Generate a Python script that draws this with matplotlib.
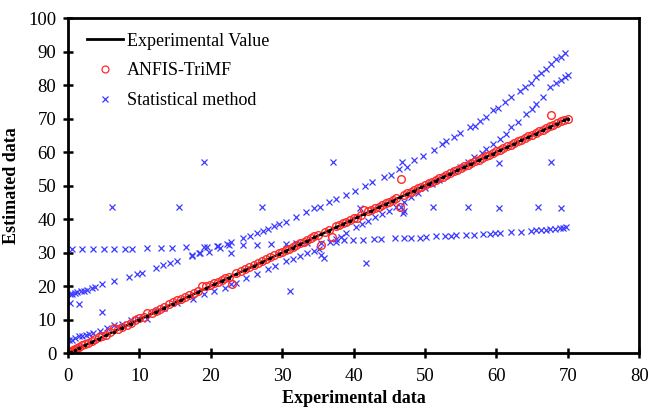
import matplotlib
matplotlib.use("Agg")
import matplotlib.pyplot as plt
from matplotlib.lines import Line2D

plt.rcParams['font.family'] = ['Liberation Serif', 'DejaVu Serif']

# Experimental values (line y = x)
exp_vals = [0.0, 0.4, 1.0, 1.6, 2.4, 3.3, 4.3, 5.3, 6.4, 7.6, 8.8, 10.0, 11.1, 12.3, 13.5,
            14.7, 15.8, 17.0, 18.2, 19.3, 20.5, 21.5, 22.5, 23.6, 24.8, 26.0, 27.2, 28.3,
            29.5, 30.5, 31.5, 32.5, 33.5, 34.5, 35.5, 36.5, 37.5, 38.5, 39.5, 40.5, 41.5,
            42.5, 43.5, 44.5, 45.5, 46.5, 47.5, 48.5, 49.5, 50.5, 51.5, 52.5, 53.5, 54.5,
            55.5, 56.5, 57.5, 58.5, 59.5, 60.5, 61.5, 62.5, 63.5, 64.5, 65.5, 66.5, 67.5,
            68.5, 69.5, 70.0]

# ANFIS-TriMF estimates
anfis_x = [0.0, 0.2, 0.4, 0.7, 1.0, 1.3, 1.6, 2.0, 2.4, 2.8,
           3.3, 3.8, 4.3, 4.8, 5.3, 5.9, 6.4, 7.0, 7.6, 8.2,
           8.8, 9.4, 10.0, 10.6, 11.1, 11.7, 12.3, 12.9, 13.5, 14.1,
           14.7, 15.3, 15.8, 16.4, 17.0, 17.6, 18.2, 18.8, 19.3, 19.9,
           20.5, 21.0, 21.5, 22.0, 22.5, 23.0, 23.6, 24.2, 24.8, 25.4,
           26.0, 26.6, 27.2, 27.8, 28.3, 28.9, 29.5, 30.0, 30.5, 31.0,
           31.5, 32.0, 32.5, 33.0, 33.5, 34.0, 34.5, 35.0, 35.5, 36.0,
           36.5, 37.0, 37.5, 38.0, 38.5, 39.0, 39.5, 40.0, 40.5, 41.0,
           41.5, 42.0, 42.5, 43.0, 43.5, 44.0, 44.5, 45.0, 45.5, 46.0,
           46.5, 46.7, 47.0, 47.5, 48.0, 48.5, 49.0, 49.5, 50.0, 50.5,
           51.0, 51.5, 52.0, 52.5, 53.0, 53.5, 54.0, 54.5, 55.0, 55.5,
           56.0, 56.5, 57.0, 57.5, 58.0, 58.5, 59.0, 59.5, 60.0, 60.5,
           61.0, 61.5, 62.0, 62.5, 63.0, 63.5, 64.0, 64.5, 65.0, 65.5,
           66.0, 66.5, 67.0, 67.5, 67.6, 68.0, 68.5, 69.0, 69.5, 70.0]
anfis_y = [0.0, 0.3, 0.6, 1.0, 1.2, 1.6, 1.9, 2.3, 2.6, 3.1,
           3.7, 4.1, 4.7, 5.2, 5.5, 6.2, 7.5, 7.3, 7.9, 8.5,
           9.1, 9.8, 10.4, 10.9, 12.1, 12.0, 12.6, 13.2, 13.8, 14.5,
           15.1, 15.8, 16.1, 16.7, 17.3, 17.9, 18.5, 19.9, 20.0, 20.2,
           20.8, 21.3, 21.8, 22.3, 22.8, 20.6, 23.9, 24.5, 25.1, 25.7,
           26.3, 26.9, 27.5, 28.2, 28.6, 29.3, 29.8, 30.3, 30.8, 31.2,
           31.8, 32.2, 32.8, 33.2, 33.8, 34.2, 34.8, 35.2, 32.2, 36.2,
           36.8, 34.7, 37.8, 38.2, 38.8, 39.2, 39.8, 40.2, 40.2, 41.3,
           42.7, 42.3, 42.8, 43.2, 43.7, 44.2, 44.7, 45.2, 45.7, 46.2,
           43.7, 52.1, 47.2, 47.7, 48.2, 48.7, 49.2, 49.7, 50.2, 50.7,
           51.2, 51.7, 52.2, 52.7, 53.2, 53.7, 54.2, 54.7, 55.2, 55.7,
           56.2, 56.7, 57.2, 57.7, 58.2, 58.7, 59.2, 59.7, 60.2, 60.7,
           61.2, 61.7, 62.2, 62.7, 63.2, 63.7, 64.2, 64.7, 65.2, 65.7,
           66.2, 66.7, 67.2, 67.7, 71.0, 68.2, 68.6, 69.2, 69.7, 70.0]

# Statistical method: upper branch
stat_a_x = [0.3, 0.6, 1.0, 1.3, 1.8, 2.2, 2.6, 3.4, 3.8, 4.8, 6.5, 8.5, 9.7, 10.3, 12.3,
            13.3, 14.3, 15.3, 17.4, 18.3, 19.4, 20.8, 22.2, 22.9, 24.5, 25.5, 26.5, 27.3,
            28.0, 28.8, 29.6, 30.5, 32.0, 33.3, 34.4, 35.3, 36.6, 37.5, 39.0, 40.2, 41.6,
            42.6, 44.2, 45.3, 46.3, 47.5, 48.5, 49.7, 51.2, 52.4, 53.0, 54.0, 54.9, 56.3,
            57.0, 57.7, 58.6, 59.6, 60.3, 61.2, 62.1, 63.3, 64.0, 64.9, 65.6, 66.3, 67.0,
            67.7, 68.4, 69.0, 69.6]
stat_a_y = [17.5, 17.7, 18.0, 18.2, 18.4, 18.6, 18.9, 19.4, 19.8, 20.5, 21.5, 22.8, 23.6,
            24.0, 25.3, 26.2, 27.0, 27.5, 29.2, 29.8, 31.7, 32.0, 32.7, 33.3, 34.3, 35.0,
            35.8, 36.5, 37.0, 37.8, 38.5, 39.0, 40.7, 42.1, 43.4, 43.5, 45.1, 46.0, 47.2,
            48.5, 50.0, 51.0, 52.6, 53.3, 55.0, 55.5, 57.6, 58.9, 60.7, 62.5, 63.2, 64.6,
            65.6, 67.4, 67.8, 69.3, 70.5, 72.5, 73.3, 75.0, 76.3, 78.3, 79.5, 80.7, 82.3,
            83.5, 84.7, 86.3, 87.7, 88.3, 89.5]

# Statistical method: lower branch
stat_b_x = [0.2, 0.5, 1.0, 1.5, 2.0, 2.5, 3.0, 3.5, 4.5, 5.5, 6.5, 7.5, 8.8, 9.8, 11.0,
            12.5, 13.5, 15.3, 17.5, 19.0, 20.5, 22.0, 22.8, 23.5, 25.0, 26.5, 28.0, 29.0,
            30.5, 31.5, 32.5, 33.5, 34.5, 35.2, 36.7, 37.5, 38.2, 39.0, 40.4, 41.2, 42.0,
            43.0, 44.0, 45.0, 46.0, 47.0, 48.0, 49.0, 50.0, 51.0, 52.0, 53.0, 54.0, 54.9,
            56.0, 56.8, 58.0, 58.6, 59.5, 60.5, 61.3, 62.1, 63.0, 64.2, 65.0, 65.6, 66.5,
            67.5, 68.3, 69.0, 69.6, 70.0]
stat_b_y = [4.0, 4.0, 4.5, 5.0, 5.2, 5.5, 5.7, 6.0, 6.5, 7.5, 8.3, 8.8, 10.0, 10.5, 10.2,
            12.5, 13.5, 14.8, 16.0, 17.5, 18.5, 19.5, 20.5, 21.0, 22.5, 23.5, 25.0, 26.0,
            27.5, 28.0, 29.0, 29.8, 30.5, 31.0, 33.2, 34.0, 34.5, 35.9, 37.7, 38.5, 39.5,
            40.5, 41.5, 42.5, 43.5, 45.0, 46.5, 47.8, 49.2, 50.5, 51.8, 53.1, 54.3, 55.6,
            57.0, 58.6, 59.8, 61.0, 62.3, 64.0, 65.5, 67.5, 69.0, 71.5, 73.0, 74.5, 76.5,
            79.5, 80.5, 81.5, 82.3, 83.0]

# Statistical method: flat branch
stat_c_x = [0.5, 2.0, 3.5, 5.0, 6.5, 8.0, 9.0, 11.0, 13.0, 14.5, 16.5, 19.0, 21.0, 22.5,
            24.5, 26.5, 28.5, 30.5, 32.0, 33.5, 35.5, 37.5, 38.6, 39.9, 41.3, 42.8, 43.9,
            45.8, 47.1, 48.1, 49.3, 50.2, 51.6, 52.8, 53.7, 54.4, 55.8, 56.8, 58.1, 59.1,
            59.8, 60.5, 62.1, 63.5, 64.9, 65.6, 66.3, 66.9, 67.5, 68.2, 68.9, 69.4, 69.7]
stat_c_y = [31.0, 31.0, 31.0, 31.0, 31.2, 31.2, 31.2, 31.3, 31.3, 31.3, 31.8, 31.8, 32.0,
            32.3, 32.3, 32.3, 32.5, 32.7, 33.0, 33.0, 33.0, 33.2, 33.7, 33.7, 33.7, 33.9,
            33.9, 34.2, 34.2, 34.3, 34.4, 34.7, 34.8, 35.0, 35.0, 35.1, 35.2, 35.3, 35.6,
            35.6, 35.7, 35.8, 36.0, 36.1, 36.5, 36.6, 36.7, 36.8, 36.9, 37.0, 37.2, 37.4,
            37.6]

# Statistical method: scattered points
stat_d_x = [0.3, 1.5, 4.8, 6.2, 15.5, 27.2, 40.9, 51.1, 56.0, 60.4, 65.8, 69.0, 19.0, 37.1,
            46.8, 60.4, 67.6, 31.1, 41.7, 35.5, 35.8, 22.9, 17.3, 18.5, 19.7, 21.3, 46.7,
            46.9, 47.0]
stat_d_y = [15.0, 14.7, 12.3, 43.5, 43.5, 43.5, 43.4, 43.5, 43.5, 43.3, 43.5, 43.3, 57.0,
            57.0, 57.0, 56.7, 57.0, 18.6, 27.0, 29.2, 28.3, 30.0, 29.0, 29.8, 30.2, 31.5,
            43.7, 41.7, 42.5]

x_ticks = [0, 10, 20, 30, 40, 50, 60, 70, 80]
y_ticks = [0, 10, 20, 30, 40, 50, 60, 70, 80, 90, 100]

fig = plt.figure(figsize=(6.49, 4.11), dpi=100)
ax = fig.add_axes([0.1048, 0.141, 0.880, 0.815])

blue = '#3b3bff'
red = '#ff2a2a'
xkw = dict(linestyle='none', marker='x', color=blue, markersize=4.5, markeredgewidth=0.9)
for sx, sy in [(stat_a_x, stat_a_y), (stat_b_x, stat_b_y), (stat_c_x, stat_c_y), (stat_d_x, stat_d_y)]:
    ax.plot(sx, sy, **xkw)

ax.plot(exp_vals, exp_vals, color='black', linewidth=1.8)
ax.plot(anfis_x, anfis_y, linestyle='none', marker='o', markerfacecolor='none',
        markeredgecolor=red, markersize=5.5, markeredgewidth=1.0)
ax.plot(exp_vals, exp_vals, linestyle='none', marker='o', color='black', markersize=1.5)

ax.set_xlim(0, 80)
ax.set_ylim(0, 100)
ax.set_xticks(x_ticks)
ax.set_yticks(y_ticks)
ax.tick_params(direction='inout', length=7, width=1.8, labelsize=13.5, pad=5,
               top=False, right=False)
ax.tick_params(axis='x', pad=7)
for s in ax.spines.values():
    s.set_linewidth(2.0)

ax.set_xlabel('Experimental data', fontsize=13, fontweight='bold', labelpad=4)
ax.set_ylabel('Estimated data', fontsize=13, fontweight='bold', labelpad=6)

handles = [
    Line2D([], [], color='black', linewidth=2.0),
    Line2D([], [], linestyle='none', marker='o', markerfacecolor='none',
           markeredgecolor=red, markersize=5, markeredgewidth=0.9),
    Line2D([], [], linestyle='none', marker='x', color=blue, markersize=4.5,
           markeredgewidth=0.9),
]
labels = ['Experimental Value', 'ANFIS-TriMF', 'Statistical method']
ax.legend(handles, labels, loc='upper left', bbox_to_anchor=(0.005, 1.005), frameon=False,
          fontsize=13, handlelength=2.0, handletextpad=0.2, labelspacing=0.7)

fig.savefig('out.png', dpi=100)
